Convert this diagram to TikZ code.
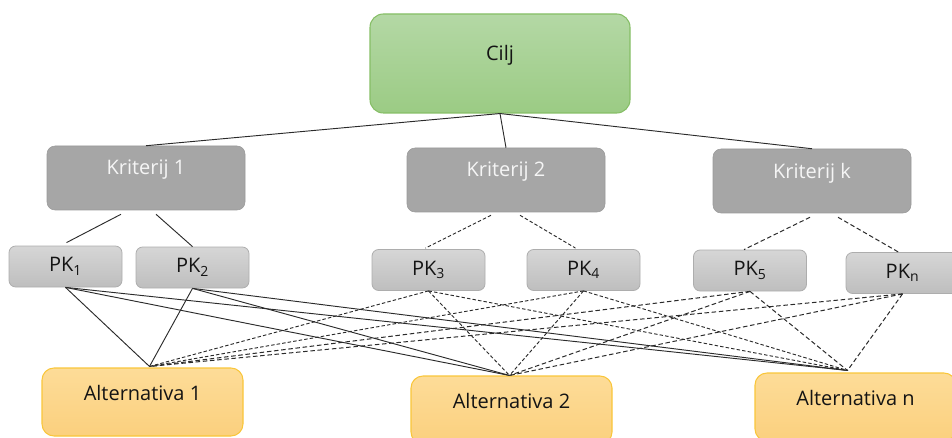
\documentclass[tikz,border=0pt]{standalone}
\usepackage{fontspec}
\setmainfont{Open Sans}
\usetikzlibrary{calc}

\definecolor{goaltop}{HTML}{B4D8A5}
\definecolor{goalbot}{HTML}{9BCB84}
\definecolor{goalline}{HTML}{86BE66}
\definecolor{critfill}{HTML}{A6A6A6}
\definecolor{subtop}{HTML}{D6D6D6}
\definecolor{subbot}{HTML}{BEBEBE}
\definecolor{subline}{HTML}{ADADAD}
\definecolor{alttop}{HTML}{FDDC98}
\definecolor{altbot}{HTML}{FBD07E}
\definecolor{altline}{HTML}{F9C63A}
\definecolor{wire}{HTML}{2B2B2B}

\begin{document}
\begin{tikzpicture}[x=0.75pt,y=-0.75pt,
  font=\fontsize{15pt}{18pt}\selectfont,
  goal/.style={draw=goalline, line width=0.8pt, rounded corners=10pt,
    top color=goaltop, bottom color=goalbot,
    minimum width=195pt, minimum height=74.25pt, inner sep=0pt},
  crit/.style={fill=critfill, draw=critfill!92!black, line width=0.4pt,
    rounded corners=6pt, minimum width=148.5pt, minimum height=48pt, inner sep=0pt},
  sub/.style={draw=subline, line width=0.6pt, rounded corners=5pt,
    top color=subtop, bottom color=subbot,
    minimum width=84.75pt, minimum height=30.75pt, inner sep=0pt},
  alt/.style={draw=altline, line width=0.8pt, rounded corners=9pt,
    top color=alttop, bottom color=altbot,
    minimum width=150.75pt, minimum height=51pt, inner sep=0pt},
  txt/.style={text=black!92},
  wtxt/.style={text=white!96!black},
  link/.style={draw=wire, line width=0.7pt},
  dlink/.style={draw=wire, line width=0.7pt, dash pattern=on 2.6pt off 1.6pt},
  dlinkk/.style={draw=wire, line width=0.75pt, dash pattern=on 3.4pt off 2pt}]

\clip (0,0) rectangle (952,438);

% goal
\node[goal, label={[txt, yshift=6pt]center:Cilj}] (cilj) at (500,63.5) {};

% criteria
\node[crit, label={[wtxt, yshift=6pt]center:Kriterij 1}] (k1) at (146,178) {};
\node[crit, label={[wtxt, yshift=6pt]center:Kriterij 2}] (k2) at (506,180) {};
\node[crit, label={[wtxt, yshift=6pt]center:Kriterij k}] (kk) at (812,181) {};

% sub-criteria
\node[sub, txt] (pk1) at (65.5,266.5) {PK\textsubscript{1}};
\node[sub, txt] (pk2) at (192.5,267.5) {PK\textsubscript{2}};
\node[sub, txt] (pk3) at (428.5,270) {PK\textsubscript{3}};
\node[sub, txt] (pk4) at (583.5,270) {PK\textsubscript{4}};
\node[sub, txt] (pk5) at (750,270.5) {PK\textsubscript{5}};
\node[sub, txt] (pkn) at (902.5,273) {PK\textsubscript{n}};

% alternatives
\node[alt, label={[txt, yshift=6.5pt]center:Alternativa 1}] (a1) at (142.5,402) {};
\node[alt, label={[txt, yshift=6.5pt]center:Alternativa 2}] (a2) at (511.5,410) {};
\node[alt, label={[txt, yshift=6.5pt]center:Alternativa n}] (an) at (855.5,407) {};

% meeting points of the links above each alternative
\coordinate (a1c) at ($(a1.north)+(7,-1)$);
\coordinate (a2c) at ($(a2.north)+(-2,0)$);
\coordinate (anc) at ($(an.north)+(-8,-2)$);

% goal to criteria
\draw[link] (cilj.south) -- (k1.north);
\draw[link] (cilj.south) -- (k2.north);
\draw[link] (cilj.south) -- (kk.north);

% criteria to sub-criteria
\draw[link]   ($(k1.south)+(-25,4)$) -- ($(pk1.north)+(1,-3)$);
\draw[link]   ($(k1.south)+(10,4)$)  -- (pk2.north);
\draw[dlink]  ($(k2.south)+(-15,3)$) -- ($(pk3.north)+(-3,-1)$);
\draw[dlink]  ($(k2.south)+(14,3)$)  -- ($(pk4.north)+(-8,-1)$);
\draw[dlinkk] ($(kk.south)+(-2,4)$)  -- ($(pk5.north)+(-6,0)$);
\draw[dlinkk] ($(kk.south)+(26,4)$)  -- ($(pkn.north)+(-4,0)$);

% sub-criteria to alternatives
\foreach \p in {pk1,pk2}
  \foreach \a in {a1c,a2c,anc}
    \draw[link] (\p.south) -- (\a);
\foreach \p in {pk3,pk4}
  \foreach \a in {a1c,a2c,anc}
    \draw[dlink] (\p.south) -- (\a);
\foreach \p in {pk5,pkn}
  \foreach \a in {a1c,a2c,anc}
    \draw[dlinkk] (\p.south) -- (\a);
\end{tikzpicture}
\end{document}
